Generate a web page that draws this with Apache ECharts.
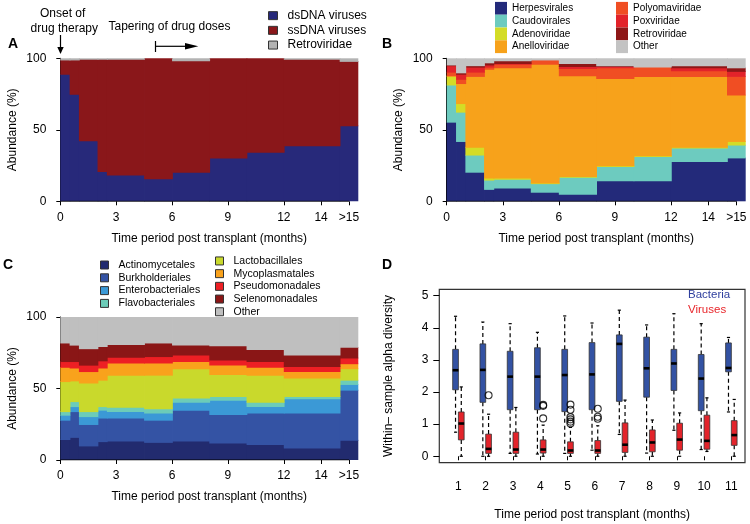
<!DOCTYPE html>
<html><head><meta charset="utf-8">
<script src="https://cdn.jsdelivr.net/npm/echarts@6/dist/echarts.min.js"></script>
<style>html,body{margin:0;padding:0;background:#fff}#c{width:750px;height:524px}</style>
</head><body><div id="c"></div><script>
// ---------- shared time axis ----------
const breaks = [0, 0.5, 1, 2, 2.5, 4.5, 6, 8, 10, 12, 15, 16];
const xTickValues = [0, 3, 6, 9, 12, 14, 15.5];
const xTickLabels = ['0', '3', '6', '9', '12', '14', '>15'];
const yTickValues = [0, 50, 100];

// ---------- Panel A (viral types, %) ----------
const aNames = ['dsDNA viruses', 'ssDNA viruses', 'Retroviridae'];
const aDsDNA = [88.5, 74.5, 42, 20.5, 18, 15.5, 20, 30, 34, 38.5, 52.5];
const aSsDNA = [10, 24, 57, 78.5, 81, 84.5, 78, 70, 66, 60.5, 45];
const aRetro = [1.5, 1.5, 1, 1, 1, 0, 2, 0, 0, 1, 2.5];

// ---------- Panel B (viral families, %) ----------
const bNames = ['Herpesvirales', 'Caudovirales', 'Adenoviridae', 'Anelloviridae', 'Polyomaviridae', 'Poxviridae', 'Retroviridae', 'Other'];
const bHerpes = [55, 41.5, 20, 8, 9, 6, 4.5, 14, 14, 27.5, 30];
const bCaudo  = [26, 20.5, 12, 6.5, 6, 6, 12, 10, 17, 9.5, 9];
const bAdeno  = [6, 6, 5.5, 1.5, 1, 0.5, 0.5, 0.5, 0.5, 0.5, 2.5];
const bAnello = [0.5, 14, 49.5, 76, 77, 83, 70.5, 61, 55.5, 49.5, 32.5];
const bPolyoma= [2.5, 3, 3, 1.5, 2.5, 3, 5, 7.5, 6.5, 4, 13];
const bPox    = [4.5, 3.5, 3.5, 1.5, 0.5, 0, 1.5, 1, 0, 2, 3.5];
const bRetro  = [0.5, 1, 1, 1.5, 2, 0, 2, 0.5, 0, 1.5, 2.5];
const bOther  = [5, 10.5, 5.5, 3.5, 2, 1.5, 4, 5.5, 6.5, 5.5, 7];

// ---------- Panel C (bacterial orders, %) ----------
const cNames = ['Actinomycetales', 'Burkholderiales', 'Enterobacteriales', 'Flavobacteriales', 'Lactobacillales', 'Mycoplasmatales', 'Pseudomonadales', 'Selenomonadales', 'Other'];
const cActino = [14, 15.5, 9.5, 12.5, 13, 12, 13, 11.5, 10.5, 8, 13.5];
const cBurk   = [13.5, 18, 15, 16.5, 16, 15.5, 21.5, 20, 22, 24.5, 35];
const cEntero = [3.5, 3.5, 5.5, 5.5, 4.5, 5, 5.5, 10, 4.5, 10, 4];
const cFlavo  = [2.5, 3.5, 3.5, 2.5, 3, 3, 3, 2.5, 3, 1.5, 3];
const cLacto  = [21, 14.5, 20, 18.5, 22.5, 23.5, 20.5, 15.5, 19, 13, 8];
const cMyco   = [10, 9, 8, 8.5, 8.5, 8.5, 5, 6.5, 5.5, 4.5, 3.5];
const cPseudo = [4, 4.5, 4.5, 5, 4, 4.5, 4.5, 3.5, 4, 3.5, 4];
const cSeleno = [13, 11.5, 11.5, 10, 9, 9.5, 7, 10, 8.5, 8, 7.5];
const cOther  = [18.5, 20, 22.5, 21, 19.5, 18.5, 20, 20.5, 23, 27, 21.5];

// ---------- Panel D (alpha diversity box plots) ----------
const dGroups = [1, 2, 3, 4, 5, 6, 7, 8, 9, 10, 11];
// [lower whisker, Q1, median, Q3, upper whisker]
const bacteriaBox = [
  [0.75, 2.07, 2.68, 3.33, 4.36], [0, 1.68, 2.69, 3.50, 4.18], [0.09, 1.45, 2.48, 3.27, 4.13],
  [0.07, 1.45, 2.48, 3.38, 3.86], [0.09, 1.39, 2.53, 3.33, 4.37], [0.19, 1.45, 2.55, 3.54, 4.15],
  [0.68, 1.71, 3.50, 3.78, 4.55], [0.10, 1.84, 2.74, 3.71, 4.09], [0.81, 2.05, 2.89, 3.33, 4.44],
  [0.21, 1.42, 2.42, 3.17, 4.13], [1.38, 2.63, 2.75, 3.53, 3.70]
];
const virusBox = [
  [0, 0.51, 1.02, 1.38, 2.16], [0, 0.09, 0.23, 0.69, 1.31], [0, 0.09, 0.21, 0.75, 1.52],
  [0, 0.10, 0.21, 0.51, 0.97], [0, 0.09, 0.18, 0.45, 0.90], [0, 0.09, 0.18, 0.49, 0.95],
  [0, 0.12, 0.36, 1.04, 1.75], [0, 0.14, 0.43, 0.82, 1.13], [0, 0.19, 0.52, 1.03, 1.35],
  [0.15, 0.22, 0.48, 1.28, 1.82], [0, 0.34, 0.66, 1.11, 1.77]
];
const virusOutlierGroup = [2, 4, 4, 4, 5, 5, 5, 5, 5, 5, 6, 6, 6];
const virusOutlierValue = [1.90, 1.60, 1.57, 1.18, 1.61, 1.45, 1.22, 1.15, 1.08, 1.02, 1.48, 1.23, 1.17];
const dYTicks = [0, 1, 2, 3, 4, 5];

// ---------- styling ----------
const FONT = 'Liberation Sans, Arial, sans-serif';
const aColors = ['#27297a', '#8a171a', '#b3b3b3'];
const bColors = ['#232a7a', '#6dcbbf', '#d4dc26', '#f7a21b', '#f04e23', '#e2232a', '#8e1717', '#c3c3c3'];
const cColors = ['#222b6f', '#3453a4', '#3b99d6', '#6cccb8', '#c9d92c', '#f9a21c', '#ed1f24', '#8a1616', '#bfbfbf'];

const X_END = breaks[breaks.length - 1];
function rectRender(params, api) {
  const x0 = api.value(0), x1 = api.value(1), lo = api.value(2), hi = api.value(3);
  if (!(hi - lo > 0)) return null;
  const p0 = api.coord([x0, hi]);
  const p1 = api.coord([x1, lo]);
  const padR = x1 < X_END ? 0.8 : 0;     // overlap next segment to hide seams
  const padT = hi < 99.9 ? 0.8 : 0;      // overlap next layer to hide seams
  const c = api.visual('color');
  return { type: 'rect',
    shape: { x: p0[0], y: p0[1] - padT, width: p1[0] - p0[0] + padR, height: p1[1] - p0[1] + padT },
    style: { fill: c } };
}
function stackSeries(prefix, names, layers, colors, g) {
  const cum = layers[0].map(() => 0);
  const out = names.map((n, j) => {
    const data = layers[j].map((v, i) => {
      const b = cum[i]; cum[i] += v;
      return [breaks[i], breaks[i + 1], b, b + v];
    });
    return {
      type: 'custom', name: prefix + '|' + n, xAxisIndex: g, yAxisIndex: g, silent: true,
      color: colors[j], itemStyle: { color: colors[j] },
      renderItem: rectRender, encode: { x: [0, 1], y: [2, 3] }, data
    };
  });
  out.push({
    type: 'line', name: prefix + '|axis', xAxisIndex: g, yAxisIndex: g, symbol: 'none', silent: true, z: 5,
    lineStyle: { color: '#000', width: 1 },
    data: [[xTickValues[0], 0], [xTickValues[xTickValues.length - 1], 0]]
  });
  return out;
}
function timeX(g) {
  return {
    type: 'value', gridIndex: g, min: 0, max: 16,
    name: 'Time period post transplant (months)', nameLocation: 'middle', nameGap: 31,
    nameTextStyle: { fontSize: 12, fontFamily: FONT, color: '#000' },
    axisLine: { show: false }, splitLine: { show: false },
    axisTick: { show: true, length: 4, customValues: xTickValues, lineStyle: { color: '#000' } },
    axisLabel: { customValues: xTickValues, margin: 10, fontSize: 12, fontFamily: FONT, color: '#000',
      formatter: v => xTickLabels[xTickValues.indexOf(v)] }
  };
}
function pctY(g) {
  return {
    type: 'value', gridIndex: g, min: 0, max: 100, offset: 6,
    name: 'Abundance (%)', nameLocation: 'middle', nameGap: 36, nameRotate: 90,
    nameTextStyle: { fontSize: 12, fontFamily: FONT, color: '#000' },
    axisLine: { show: true, lineStyle: { color: '#000', width: 1 } }, splitLine: { show: false },
    axisTick: { show: true, length: 4, customValues: yTickValues, lineStyle: { color: '#000' } },
    axisLabel: { customValues: yTickValues, margin: 8, fontSize: 12, fontFamily: FONT, color: '#000' }
  };
}
function legendCfg(prefix, names, left, top, o) {
  return {
    data: names.map(n => prefix + '|' + n), formatter: n => n.split('|')[1],
    orient: 'vertical', left, top, padding: 0, itemGap: 0, icon: 'rect', selectedMode: false,
    itemWidth: o.w, itemHeight: o.h,
    itemStyle: { borderColor: o.border ? '#333' : 'transparent', borderWidth: o.border ? 1 : 0 },
    textStyle: { fontSize: o.fs, fontFamily: FONT, color: '#000', lineHeight: o.lh, padding: [0, 0, 0, o.pad] }
  };
}

const BOXW = 0.21, BOXOFF = 0.105;
function boxRender(offset, fill) {
  return function (params, api) {
    const x = api.value(0) + offset;
    const pLo = api.coord([x, api.value(1)]), pQ1 = api.coord([x, api.value(2)]);
    const pMd = api.coord([x, api.value(3)]), pQ3 = api.coord([x, api.value(4)]);
    const pHi = api.coord([x, api.value(5)]);
    const hw = api.size([BOXW, 0])[0] / 2, cw = hw * 0.55, cx = pMd[0];
    const dash = { stroke: '#000', lineWidth: 1.2, lineDash: [4, 3] };
    const solid = { stroke: '#000', lineWidth: 1.2 };
    return { type: 'group', children: [
      { type: 'line', shape: { x1: cx, y1: pQ3[1], x2: cx, y2: pHi[1] }, style: dash },
      { type: 'line', shape: { x1: cx, y1: pQ1[1], x2: cx, y2: pLo[1] }, style: dash },
      { type: 'line', shape: { x1: cx - cw, y1: pHi[1], x2: cx + cw, y2: pHi[1] }, style: solid },
      { type: 'line', shape: { x1: cx - cw, y1: pLo[1], x2: cx + cw, y2: pLo[1] }, style: solid },
      { type: 'rect', shape: { x: cx - hw, y: pQ3[1], width: 2 * hw, height: pQ1[1] - pQ3[1] },
        style: { fill, stroke: '#333', lineWidth: 0.8 } },
      { type: 'line', shape: { x1: cx - hw, y1: pMd[1], x2: cx + hw, y2: pMd[1] }, style: { stroke: '#000', lineWidth: 2.6 } }
    ] };
  };
}

const chart = echarts.init(document.getElementById('c'), null, { renderer: 'canvas' });
const option = {
  animation: false,
  backgroundColor: '#fff',
  grid: [
    { left: 60.3, top: 58.3, width: 298, height: 143 },
    { left: 446.7, top: 58.3, width: 299, height: 143 },
    { left: 60.3, top: 317, width: 298, height: 143 },
    { left: 439.3, top: 289.3, width: 305.7, height: 173.4, show: true, borderColor: '#333', borderWidth: 1.2, backgroundColor: 'transparent' }
  ],
  xAxis: [timeX(0), timeX(1), timeX(2), {
    type: 'value', gridIndex: 3, min: 0.3, max: 11.5,
    name: 'Time period post transplant (months)', nameLocation: 'middle', nameGap: 46,
    nameTextStyle: { fontSize: 12, fontFamily: FONT, color: '#000' },
    axisLine: { show: false }, splitLine: { show: false },
    axisTick: { show: true, length: 4, customValues: dGroups, lineStyle: { color: '#000' } },
    axisLabel: { customValues: dGroups, margin: 18, fontSize: 12, fontFamily: FONT, color: '#000' }
  }],
  yAxis: [pctY(0), pctY(1), pctY(2), {
    type: 'value', gridIndex: 3, min: -0.2, max: 5.2,
    name: 'Within\u2013 sample alpha diversity', nameLocation: 'middle', nameGap: 45, nameRotate: 90,
    nameTextStyle: { fontSize: 12, fontFamily: FONT, color: '#000' },
    axisLine: { show: false }, splitLine: { show: false },
    axisTick: { show: true, length: 6, customValues: dYTicks, lineStyle: { color: '#000' } },
    axisLabel: { customValues: dYTicks, margin: 11, fontSize: 12, fontFamily: FONT, color: '#000' }
  }],
  legend: [
    legendCfg('A', aNames, 268, 8.3, { w: 9, h: 8, border: true, fs: 12, lh: 14.7, pad: 5 }),
    legendCfg('B', bNames.slice(0, 4), 495, 1.9, { w: 12, h: 12.8, border: false, fs: 10, lh: 12.8, pad: 0 }),
    legendCfg('B', bNames.slice(4), 616, 1.9, { w: 12, h: 12.8, border: false, fs: 10, lh: 12.8, pad: 0 }),
    legendCfg('C', cNames.slice(0, 4), 100, 258.6, { w: 8, h: 8, border: true, fs: 10.5, lh: 12.8, pad: 5 }),
    legendCfg('C', cNames.slice(4), 215, 254.6, { w: 8, h: 8, border: true, fs: 10.5, lh: 12.7, pad: 5 })
  ],
  series: [
    ...stackSeries('A', aNames, [aDsDNA, aSsDNA, aRetro], aColors, 0),
    ...stackSeries('B', bNames, [bHerpes, bCaudo, bAdeno, bAnello, bPolyoma, bPox, bRetro, bOther], bColors, 1),
    ...stackSeries('C', cNames, [cActino, cBurk, cEntero, cFlavo, cLacto, cMyco, cPseudo, cSeleno, cOther], cColors, 2),
    { type: 'custom', name: 'Bacteria', xAxisIndex: 3, yAxisIndex: 3, silent: true, clip: false,
      renderItem: boxRender(-BOXOFF, '#3352a3'), encode: { x: 0, y: [1, 2, 3, 4, 5] },
      data: dGroups.map((g, i) => [g, ...bacteriaBox[i]]) },
    { type: 'custom', name: 'Viruses', xAxisIndex: 3, yAxisIndex: 3, silent: true, clip: false,
      renderItem: boxRender(BOXOFF, '#e3242b'), encode: { x: 0, y: [1, 2, 3, 4, 5] },
      data: dGroups.map((g, i) => [g, ...virusBox[i]]) },
    { type: 'scatter', name: 'Virus outliers', xAxisIndex: 3, yAxisIndex: 3, silent: true, z: 6,
      symbol: 'circle', symbolSize: 7,
      itemStyle: { color: 'rgba(0,0,0,0)', borderColor: '#000', borderWidth: 1.1 },
      data: virusOutlierGroup.map((g, i) => [g + BOXOFF, virusOutlierValue[i]]) }
  ],
  graphic: [
    { type: 'text', x: 13, y: 44, style: { text: 'A', font: 'bold 14px ' + FONT, fill: '#000', align: 'center', verticalAlign: 'middle' } },
    { type: 'text', x: 387, y: 44, style: { text: 'B', font: 'bold 14px ' + FONT, fill: '#000', align: 'center', verticalAlign: 'middle' } },
    { type: 'text', x: 8, y: 265, style: { text: 'C', font: 'bold 14px ' + FONT, fill: '#000', align: 'center', verticalAlign: 'middle' } },
    { type: 'text', x: 387, y: 265.5, style: { text: 'D', font: 'bold 14px ' + FONT, fill: '#000', align: 'center', verticalAlign: 'middle' } },
    { type: 'text', x: 62.7, y: 14, style: { text: 'Onset of', font: '12px ' + FONT, fill: '#000', align: 'center', verticalAlign: 'middle' } },
    { type: 'text', x: 64.3, y: 29, style: { text: 'drug therapy', font: '12px ' + FONT, fill: '#000', align: 'center', verticalAlign: 'middle' } },
    { type: 'text', x: 169.5, y: 27, style: { text: 'Tapering of drug doses', font: '12px ' + FONT, fill: '#000', align: 'center', verticalAlign: 'middle' } },
    { type: 'line', shape: { x1: 60.5, y1: 35, x2: 60.5, y2: 47.5 }, style: { stroke: '#000', lineWidth: 1.2 } },
    { type: 'polygon', shape: { points: [[57.3, 47], [63.7, 47], [60.5, 54]] }, style: { fill: '#000' } },
    { type: 'line', shape: { x1: 155.5, y1: 41, x2: 155.5, y2: 52 }, style: { stroke: '#000', lineWidth: 1.2 } },
    { type: 'line', shape: { x1: 155.5, y1: 46.3, x2: 186, y2: 46.3 }, style: { stroke: '#000', lineWidth: 1.2 } },
    { type: 'polygon', shape: { points: [[185, 43], [185, 49.6], [198.3, 46.3]] }, style: { fill: '#000' } },
    { type: 'text', x: 688, y: 295.3, style: { text: 'Bacteria', font: '11.5px ' + FONT, fill: '#2f3f9e', align: 'left', verticalAlign: 'middle' } },
    { type: 'text', x: 688, y: 310, style: { text: 'Viruses', font: '11.5px ' + FONT, fill: '#e8262b', align: 'left', verticalAlign: 'middle' } }
  ]
};
chart.setOption(option);
</script></body></html>
